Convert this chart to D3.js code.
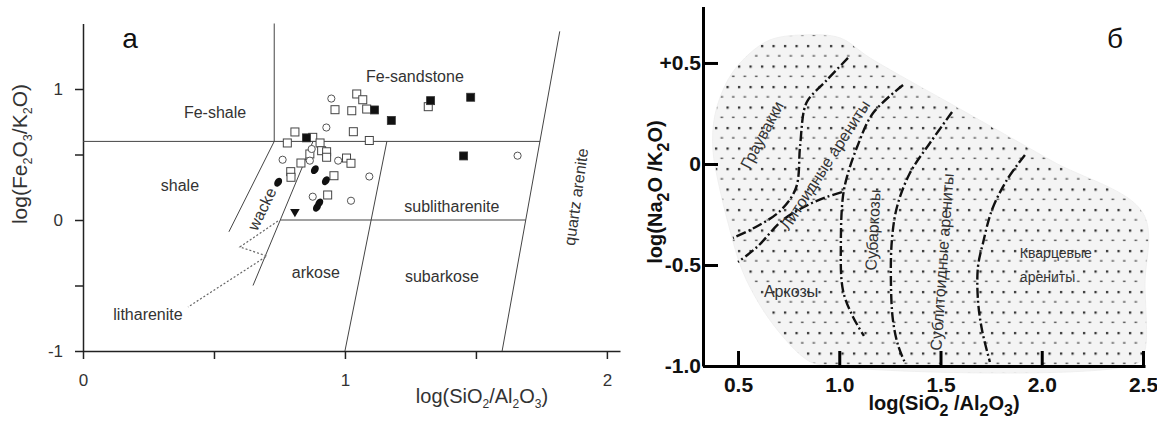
<!DOCTYPE html>
<html>
<head>
<meta charset="utf-8">
<script src="https://cdn.jsdelivr.net/npm/d3@7"></script>
<style>
  body { margin: 0; background: #fff; }
  text { font-family: "Liberation Sans", Arial, sans-serif; }
</style>
</head>
<body>
<script>
// ---------- panel а : log(Fe2O3/K2O) vs log(SiO2/Al2O3) ----------
const aXTicks = [0, 0.5, 1, 1.5, 2];
const aXLabels = ['0', '', '1', '', '2'];
const aYTicks = [-1, -0.5, 0, 0.5, 1];
const aYLabels = ['-1', '', '0', '', '1'];

// field boundaries, [x, y] in data units
const aBoundaries = [
  [[0.73, 1.5], [0.73, 0.6]],
  [[0, 0.6], [1.745, 0.6]],
  [[1.82, 1.44], [1.60, -1.0]],
  [[0.73, 0.6], [0.557, -0.09]],
  [[0.878, 0.6], [0.649, -0.5]],
  [[0.753, 0], [1.69, 0]],
  [[1.16, 0.6], [1.0, -1.0]]
];
const aLitharenite = [[0.744, -0.008], [0.599, -0.206], [0.702, -0.275], [0.401, -0.664]];

const aFields = ['Fe-shale', 'shale', 'wacke', 'Fe-sandstone', 'sublitharenite', 'arkose', 'subarkose', 'quartz arenite', 'litharenite'];
const aFieldX = [0.504, 0.370, 0.683, 1.267, 1.408, 0.889, 1.370, 1.882, 0.248];
const aFieldY = [0.824, 0.267, 0.084, 1.099, 0.107, -0.397, -0.427, 0.176, -0.718];

// samples
const openSquares = [
  [1.045, 0.962], [1.068, 0.918], [0.962, 0.842], [1.026, 0.834], [1.083, 0.847],
  [0.809, 0.672], [0.877, 0.631], [1.032, 0.674], [1.093, 0.607], [0.780, 0.588],
  [0.905, 0.588], [0.911, 0.529], [0.930, 0.521], [1.006, 0.473], [1.023, 0.433],
  [0.832, 0.435], [0.793, 0.369], [0.794, 0.326], [0.958, 0.338], [0.934, 0.191],
  [0.866, 0.504], [0.930, 0.479], [1.318, 0.865]
];
const openCircles = [
  [0.948, 0.927], [0.929, 0.706], [0.762, 0.460], [0.974, 0.453], [0.866, 0.453],
  [1.093, 0.332], [0.877, 0.178], [1.023, 0.147], [0.873, 0.542], [1.659, 0.491]
];
const filledSquares = [
  [1.113, 0.840], [1.177, 0.760], [1.327, 0.911], [1.480, 0.937], [1.453, 0.489], [0.853, 0.627]
];
const filledCircles = [
  [0.745, 0.288], [0.885, 0.384], [0.927, 0.300], [0.902, 0.130], [0.893, 0.097]
];
const triangles = [[0.809, 0.063]];

// ---------- panel б : log(Na2O/K2O) vs log(SiO2/Al2O3) ----------
const bXTicks = [0.5, 1.0, 1.5, 2.0, 2.5];
const bXLabels = ['0.5', '1.0', '1.5', '2.0', '2.5'];
const bYTicks = [-1, -0.5, 0, 0.5];
const bYLabels = ['-1.0', '-0.5', '0', '+0.5'];

const bOutline = [
  [0.890, -0.99], [0.821, -0.955], [0.707, -0.837], [0.608, -0.698], [0.520, -0.525],
  [0.460, -0.327], [0.411, -0.129], [0.376, 0.069], [0.386, 0.243], [0.450, 0.416],
  [0.534, 0.525], [0.658, 0.614], [0.831, 0.639], [1.004, 0.624], [1.152, 0.525],
  [1.60, 0.27], [2.05, 0.015], [2.50, -0.243], [2.51, -0.60], [2.51, -0.921], [2.475, -0.985]
];

const bLines = [
  [[1.043, 0.525], [0.939, 0.416], [0.846, 0.317], [0.826, 0.267], [0.806, 0.084], [0.786, -0.119], [0.707, -0.233], [0.569, -0.322], [0.475, -0.366]],
  [[1.013, -0.139], [0.939, -0.163], [0.855, -0.198], [0.722, -0.277], [0.594, -0.411], [0.500, -0.485]],
  [[1.315, 0.391], [1.167, 0.252], [1.088, 0.084], [1.038, -0.064], [1.018, -0.163], [1.008, -0.376], [1.018, -0.624], [1.068, -0.757], [1.122, -0.851]],
  [[1.557, 0.257], [1.448, 0.104], [1.349, -0.045], [1.285, -0.213], [1.260, -0.376], [1.255, -0.574], [1.265, -0.772], [1.290, -0.896], [1.325, -0.985]],
  [[1.917, 0.045], [1.828, -0.079], [1.754, -0.228], [1.710, -0.391], [1.685, -0.510], [1.685, -0.673], [1.705, -0.822], [1.744, -0.980]]
];

const bFields = ['Граувакки', 'Литоидные арениты', 'Субаркозы', 'Сублитоидные арениты', 'Кварцевые', 'арениты', 'Аркозы'];
const bFieldX = [0.618, 0.930, 1.166, 1.507, 1.892, 1.892, 0.762];
const bFieldY = [0.144, -0.005, -0.327, -0.485, -0.441, -0.559, -0.629];

// ---------- layout ----------
const W = 1157, H = 424;
const svg = d3.select('body').append('svg').attr('width', W).attr('height', H);
svg.append('rect').attr('width', W).attr('height', H).attr('fill', '#fff');

const defs = svg.append('defs');
const pat = defs.append('pattern').attr('id', 'dots')
  .attr('patternUnits', 'userSpaceOnUse').attr('width', 11.5).attr('height', 20.5);
pat.append('rect').attr('width', 11.5).attr('height', 20.5).attr('fill', '#f4f4f4');
pat.append('rect').attr('x', 2).attr('y', 4).attr('width', 2.2).attr('height', 2.2).attr('fill', '#222');
pat.append('rect').attr('x', 7.5).attr('y', 14.2).attr('width', 2.6).attr('height', 1.4).attr('fill', '#555');

function richText(t, parts, size, subScale, shift) {
  let prev = false;
  parts.forEach(([s, sub]) => {
    const ts = t.append('tspan').text(s);
    if (sub) ts.attr('font-size', size * subScale);
    if (sub !== prev) ts.attr('dy', sub ? size * shift : -size * shift);
    prev = sub;
  });
}

// ===== panel а =====
const xA = d3.scaleLinear().domain([0, 2.05]).range([83, 620]);
const yA = d3.scaleLinear().domain([-1, 1.5]).range([351, 23.5]);
const gA = svg.append('g');

gA.append('g').attr('transform', `translate(0,${yA(-1)})`)
  .call(d3.axisBottom(xA).tickValues(aXTicks).tickFormat((d, i) => aXLabels[i])
    .tickSizeInner(8).tickSizeOuter(0).tickPadding(15))
  .call(g => g.selectAll('path,line').attr('stroke', '#222').attr('stroke-width', 1.5))
  .call(g => g.selectAll('text').attr('font-size', 17).attr('fill', '#333').attr('font-family', null));

gA.append('g').attr('transform', `translate(${xA(0)},0)`)
  .call(d3.axisLeft(yA).tickValues(aYTicks).tickFormat((d, i) => aYLabels[i])
    .tickSizeInner(8).tickSizeOuter(0).tickPadding(12))
  .call(g => g.selectAll('path,line').attr('stroke', '#222').attr('stroke-width', 1.5))
  .call(g => g.selectAll('text').attr('font-size', 17).attr('fill', '#333').attr('font-family', null));

const lineA = d3.line().x(d => xA(d[0])).y(d => yA(d[1]));
gA.selectAll('path.bnd').data(aBoundaries).join('path')
  .attr('class', 'bnd').attr('d', lineA)
  .attr('fill', 'none').attr('stroke', '#444').attr('stroke-width', 1);
gA.append('path').datum(aLitharenite).attr('d', lineA)
  .attr('fill', 'none').attr('stroke', '#666').attr('stroke-width', 1.2)
  .attr('stroke-dasharray', '2,2');

gA.selectAll('text.field').data(aFields).join('text')
  .attr('class', 'field')
  .attr('transform', (d, i) => {
    const ang = d === 'wacke' ? -64 : d === 'quartz arenite' ? -82 : 0;
    return `translate(${xA(aFieldX[i])},${yA(aFieldY[i])}) rotate(${ang})`;
  })
  .attr('text-anchor', 'middle').attr('dy', '0.35em')
  .attr('font-size', 16).attr('fill', '#333').text(d => d);

// samples
gA.selectAll('rect.os').data(openSquares).join('rect').attr('class', 'os')
  .attr('x', d => xA(d[0]) - 4).attr('y', d => yA(d[1]) - 4)
  .attr('width', 8).attr('height', 8)
  .attr('fill', '#fff').attr('stroke', '#444').attr('stroke-width', 1);
gA.selectAll('circle.oc').data(openCircles).join('circle').attr('class', 'oc')
  .attr('cx', d => xA(d[0])).attr('cy', d => yA(d[1])).attr('r', 3.6)
  .attr('fill', '#fff').attr('stroke', '#555').attr('stroke-width', 1);
gA.selectAll('rect.fs').data(filledSquares).join('rect').attr('class', 'fs')
  .attr('x', d => xA(d[0]) - 4).attr('y', d => yA(d[1]) - 4)
  .attr('width', 8).attr('height', 8)
  .attr('fill', '#111').attr('stroke', '#333').attr('stroke-width', 0.8);
gA.selectAll('ellipse.fc').data(filledCircles).join('ellipse').attr('class', 'fc')
  .attr('transform', d => `translate(${xA(d[0])},${yA(d[1])}) rotate(35)`)
  .attr('rx', 3.5).attr('ry', 4.8).attr('fill', '#111');
gA.selectAll('path.tri').data(triangles).join('path').attr('class', 'tri')
  .attr('transform', d => `translate(${xA(d[0])},${yA(d[1])}) rotate(180)`)
  .attr('d', d3.symbol(d3.symbolTriangle, 40)).attr('fill', '#111');

// titles
const axA = gA.append('text').attr('x', 482).attr('y', 403)
  .attr('text-anchor', 'middle').attr('font-size', 20).attr('fill', '#333');
richText(axA, [['log(SiO', false], ['2', true], ['/Al', false], ['2', true], ['O', false], ['3', true], [')', false]], 20, 0.6, 0.25);
const ayA = gA.append('text').attr('transform', 'translate(27,154) rotate(-90)')
  .attr('text-anchor', 'middle').attr('font-size', 21).attr('fill', '#333');
richText(ayA, [['log(Fe', false], ['2', true], ['O', false], ['3', true], ['/K', false], ['2', true], ['O)', false]], 21, 0.6, 0.25);

gA.append('text').attr('x', 130).attr('y', 48).attr('text-anchor', 'middle')
  .attr('font-family', '"Liberation Serif", "Times New Roman", serif')
  .attr('font-size', 28).attr('fill', '#111').text('а');

// ===== panel б =====
const xB = d3.scaleLinear().domain([0.327, 2.51]).range([703, 1145]);
const yB = d3.scaleLinear().domain([-1, 0.78]).range([366, 6.4]);
const gB = svg.append('g');

gB.append('path').datum(bOutline)
  .attr('d', d3.line().x(d => xB(d[0])).y(d => yB(d[1])).curve(d3.curveCatmullRomClosed.alpha(0.5)))
  .attr('fill', 'url(#dots)').attr('stroke', '#eee').attr('stroke-width', 0.8);

gB.selectAll('path.bl').data(bLines).join('path').attr('class', 'bl')
  .attr('d', d3.line().x(d => xB(d[0])).y(d => yB(d[1])).curve(d3.curveCatmullRom.alpha(0.5)))
  .attr('fill', 'none').attr('stroke', '#111').attr('stroke-width', 2.4)
  .attr('stroke-dasharray', '10,3,2,3');

gB.selectAll('text.fb').data(bFields).join('text').attr('class', 'fb')
  .attr('transform', (d, i) => {
    const ang = { 'Граувакки': -62, 'Литоидные арениты': -57, 'Субаркозы': -87, 'Сублитоидные арениты': -86 }[d] || 0;
    return `translate(${xB(bFieldX[i])},${yB(bFieldY[i])}) rotate(${ang})`;
  })
  .attr('text-anchor', (d, i) => (i === 4 || i === 5) ? 'start' : 'middle')
  .attr('dy', '0.35em')
  .attr('font-size', (d, i) => (i === 4 || i === 5) ? 14 : 16)
  .attr('fill', '#333').text(d => d);

gB.append('g').attr('transform', `translate(0,${yB(-1)})`)
  .call(d3.axisBottom(xB).tickValues(bXTicks).tickFormat((d, i) => bXLabels[i])
    .tickSizeInner(-15).tickSizeOuter(0).tickPadding(11))
  .call(g => g.selectAll('path,line').attr('stroke', '#000').attr('stroke-width', 3))
  .call(g => g.selectAll('text').attr('font-size', 21).attr('font-weight', 'bold')
    .attr('fill', '#111').attr('font-family', null));

gB.append('g').attr('transform', `translate(${xB(0.327)},0)`)
  .call(d3.axisLeft(yB).tickValues(bYTicks).tickFormat((d, i) => bYLabels[i])
    .tickSizeInner(-15).tickSizeOuter(0).tickPadding(2))
  .call(g => g.selectAll('path,line').attr('stroke', '#000').attr('stroke-width', 3))
  .call(g => g.selectAll('text').attr('font-size', 21).attr('font-weight', 'bold')
    .attr('fill', '#111').attr('font-family', null));

const axB = gB.append('text').attr('x', 944).attr('y', 410)
  .attr('text-anchor', 'middle').attr('font-size', 20).attr('font-weight', 'bold').attr('fill', '#111');
richText(axB, [['log(SiO', false], ['2', true], [' /Al', false], ['2', true], ['O', false], ['3', true], [')', false]], 20, 0.8, 0.3);
const ayB = gB.append('text').attr('transform', 'translate(662,192) rotate(-90)')
  .attr('text-anchor', 'middle').attr('font-size', 20).attr('font-weight', 'bold').attr('fill', '#111');
richText(ayB, [['log(Na', false], ['2', true], ['O  /K', false], ['2', true], ['O)', false]], 20, 0.8, 0.35);

gB.append('text').attr('x', 1115).attr('y', 48).attr('text-anchor', 'middle')
  .attr('font-family', '"Liberation Serif", "Times New Roman", serif')
  .attr('font-size', 28).attr('fill', '#111').text('б');
</script>
</body>
</html>
